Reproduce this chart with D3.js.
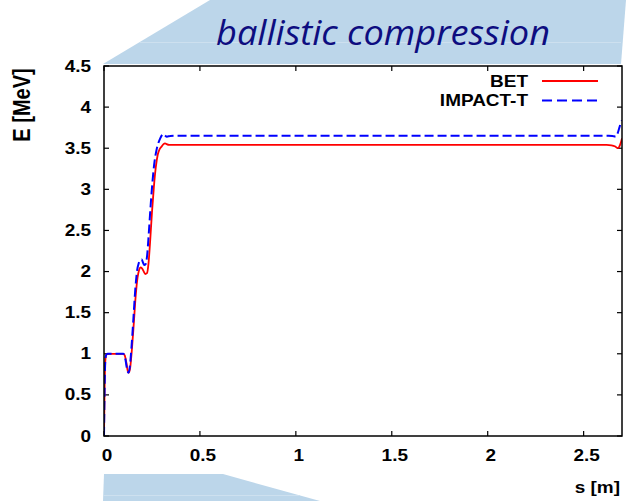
<!DOCTYPE html>
<html>
<head>
<meta charset="utf-8">
<script src="https://cdn.jsdelivr.net/npm/d3@7"></script>
<style>
  body { margin: 0; background: #fff; }
  svg { display: block; }
  .lbl { font-family: "Liberation Sans", Arial, sans-serif; font-weight: bold; font-size: 16.5px; fill: #000; }
  .title { font-family: "Open Sans", sans-serif; font-style: italic; font-size: 35px; fill: #0d0d80; }
</style>
</head>
<body>
<svg id="chart" width="626" height="501"></svg>
<script>
// BET (red, solid)
var sBET = [0, 0.003, 0.007, 0.012, 0.02, 0.06, 0.1, 0.108, 0.116, 0.123, 0.13, 0.137, 0.145, 0.155, 0.165, 0.175, 0.183, 0.19, 0.198, 0.207, 0.215, 0.224, 0.232, 0.24, 0.25, 0.26, 0.27, 0.28, 0.29, 0.3, 0.31, 0.318, 0.326, 0.34, 0.4, 1.0, 1.5, 2.0, 2.5, 2.62, 2.645, 2.665, 2.678, 2.69, 2.7];
var eBET = [0, 0.55, 0.92, 0.99, 1.0, 1.0, 1.0, 0.98, 0.9, 0.8, 0.77, 0.84, 1.04, 1.36, 1.7, 1.93, 2.02, 2.05, 2.04, 2.0, 1.97, 1.98, 2.1, 2.35, 2.72, 3.03, 3.27, 3.42, 3.49, 3.52, 3.55, 3.56, 3.55, 3.54, 3.54, 3.54, 3.54, 3.54, 3.54, 3.54, 3.535, 3.52, 3.5, 3.54, 3.62];

// IMPACT-T (blue, dashed)
var sImpact = [0, 0.003, 0.007, 0.012, 0.02, 0.06, 0.1, 0.107, 0.114, 0.121, 0.128, 0.135, 0.143, 0.153, 0.163, 0.173, 0.181, 0.188, 0.196, 0.203, 0.21, 0.217, 0.225, 0.233, 0.243, 0.253, 0.263, 0.273, 0.283, 0.293, 0.302, 0.31, 0.318, 0.328, 0.345, 0.4, 1.0, 1.5, 2.0, 2.5, 2.63, 2.65, 2.668, 2.68, 2.69, 2.7];
var eImpact = [0, 0.55, 0.92, 0.99, 1.0, 1.0, 1.0, 0.98, 0.9, 0.8, 0.77, 0.85, 1.07, 1.42, 1.78, 2.02, 2.1, 2.14, 2.15, 2.11, 2.08, 2.09, 2.2, 2.45, 2.8, 3.1, 3.33, 3.47, 3.56, 3.62, 3.66, 3.675, 3.655, 3.64, 3.65, 3.653, 3.653, 3.653, 3.653, 3.653, 3.653, 3.65, 3.64, 3.7, 3.78, 3.84];

var xTicks = [0, 0.5, 1, 1.5, 2, 2.5];
var yTicks = [0, 0.5, 1, 1.5, 2, 2.5, 3, 3.5, 4, 4.5];
var seriesNames = ["BET", "IMPACT-T"];
var titleText = "ballistic compression";
var xTitle = "s [m]";
var yTitle = "E [MeV]";

var svg = d3.select("#chart");
// plot box (do not name these top/left: window.top is read-only)
var pL = 104, pR = 622, pT = 66, pB = 436;
var sx = 1.15; // labels in the picture are stretched sideways

var x = d3.scaleLinear().domain([0, 2.7]).range([pL, pR]);
var y = d3.scaleLinear().domain([0, 4.5]).range([pB, pT]);

// blue banners
svg.append("path")
    .attr("d", "M103,64 L210,0 L626,0 L621,64 Z")
    .attr("fill", "#bcd6ea");
svg.append("line")
    .attr("x1", 140).attr("x2", 621).attr("y1", 42.5).attr("y2", 42.5)
    .attr("stroke", "#cde0ef").attr("stroke-width", 1);
svg.append("path")
    .attr("d", "M104,474 L223,474 L320,501 L103,501 Z")
    .attr("fill", "#bcd6ea");
svg.append("line")
    .attr("x1", 103).attr("x2", 300).attr("y1", 495.5).attr("y2", 495.5)
    .attr("stroke", "#cde0ef").attr("stroke-width", 1);

svg.append("text")
    .attr("class", "title")
    .attr("x", 216).attr("y", 45)
    .attr("textLength", 334)
    .attr("lengthAdjust", "spacingAndGlyphs")
    .text(titleText);

function label(txt, px, py, anchor, rot) {
    return svg.append("text")
        .attr("class", "lbl")
        .attr("text-anchor", anchor)
        .attr("dominant-baseline", "central")
        .attr("transform", "translate(" + px + "," + py + ")" + (rot ? " rotate(" + rot + ") scale(1," + sx + ")" : " scale(" + sx + ",1)"))
        .text(txt);
}

// ticks (gnuplot style, inside and mirrored)
var g = svg.append("g");
xTicks.forEach(function (t) {
    g.append("line").attr("x1", x(t)).attr("x2", x(t)).attr("y1", pB).attr("y2", pB - 5).attr("stroke", "#000").attr("stroke-width", 1.2);
    g.append("line").attr("x1", x(t)).attr("x2", x(t)).attr("y1", pT).attr("y2", pT + 5).attr("stroke", "#000").attr("stroke-width", 1.2);
    label(String(t), x(t) + 3, 455, "middle");
});
yTicks.forEach(function (t) {
    g.append("line").attr("x1", pL).attr("x2", pL + 5).attr("y1", y(t)).attr("y2", y(t)).attr("stroke", "#000").attr("stroke-width", 1.2);
    g.append("line").attr("x1", pR).attr("x2", pR - 5).attr("y1", y(t)).attr("y2", y(t)).attr("stroke", "#000").attr("stroke-width", 1.2);
    label(String(t), 91, y(t), "end");
});

label(xTitle, 620, 487, "end");
label(yTitle, 22, 105, "middle", -90).style("font-size", "20px");

svg.append("clipPath").attr("id", "clip")
    .append("rect").attr("x", pL).attr("y", pT).attr("width", pR - pL).attr("height", pB - pT);

var line = d3.line()
    .x(function (d) { return x(d[0]); })
    .y(function (d) { return y(d[1]); })
    .curve(d3.curveMonotoneX);

var redData = sBET.map(function (s, i) { return [s, eBET[i]]; });
var blueData = sImpact.map(function (s, i) { return [s, eImpact[i]]; });

var plot = svg.append("g").attr("clip-path", "url(#clip)");
plot.append("path")
    .attr("d", line(redData))
    .attr("fill", "none").attr("stroke", "#ff0000").attr("stroke-width", 1.8);
plot.append("path")
    .attr("d", line(blueData))
    .attr("fill", "none").attr("stroke", "#0000ff").attr("stroke-width", 2)
    .attr("stroke-dasharray", "9,4");

// frame
svg.append("rect")
    .attr("x", pL).attr("y", pT).attr("width", pR - pL).attr("height", pB - pT)
    .attr("fill", "none").attr("stroke", "#000").attr("stroke-width", 1.5);

// legend
var legend = svg.append("g");
seriesNames.forEach(function (name, i) {
    var ly = 81 + i * 19.5;
    label(name, 528, ly, "end");
    legend.append("line")
        .attr("x1", 542).attr("x2", 598).attr("y1", ly).attr("y2", ly)
        .attr("stroke", i == 0 ? "#ff0000" : "#0000ff")
        .attr("stroke-width", i == 0 ? 1.8 : 2)
        .attr("stroke-dasharray", i == 0 ? null : "10,5");
});
</script>
</body>
</html>
